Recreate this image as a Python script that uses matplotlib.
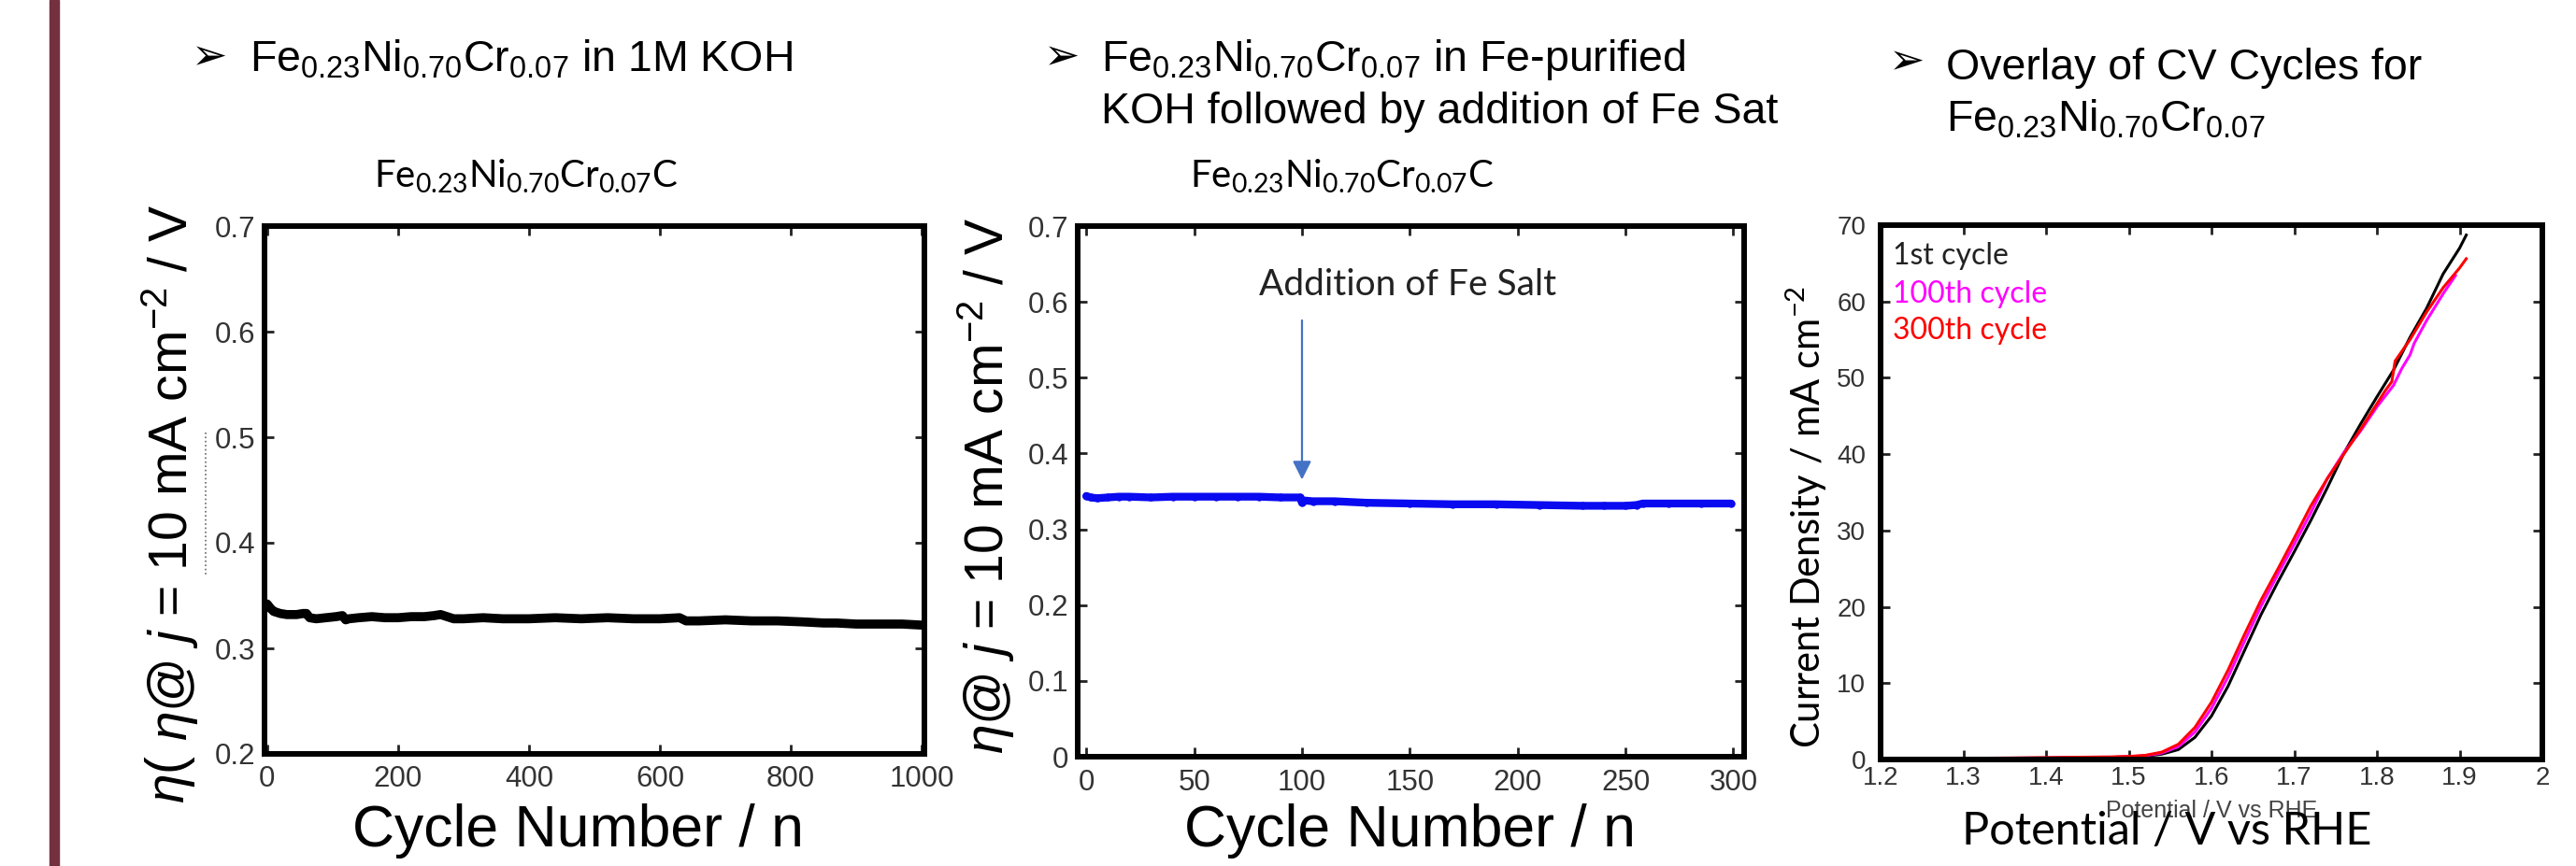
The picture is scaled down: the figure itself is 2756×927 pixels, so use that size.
import numpy as np
import matplotlib.pyplot as plt
from matplotlib import font_manager
from matplotlib.patches import Rectangle
from matplotlib.lines import Line2D

# panel 1: overpotential vs cycle number in 1M KOH
cyc1 = [0, 5, 10, 20, 30, 45, 55, 60, 65, 75, 90, 105, 115, 120, 125, 140, 160, 180, 200, 220,
        240, 255, 265, 275, 285, 300, 330, 360, 400, 440, 480, 520, 560, 600, 630, 640, 660, 700,
        740, 780, 820, 850, 870, 900, 940, 970, 1000]
eta1 = [0.342, 0.338, 0.335, 0.333, 0.332, 0.332, 0.333, 0.333, 0.329, 0.328, 0.329, 0.330, 0.331,
        0.327, 0.328, 0.329, 0.330, 0.329, 0.329, 0.330, 0.330, 0.331, 0.332, 0.330, 0.328, 0.328,
        0.329, 0.328, 0.328, 0.329, 0.328, 0.329, 0.328, 0.328, 0.329, 0.326, 0.326, 0.327, 0.326,
        0.326, 0.325, 0.324, 0.324, 0.323, 0.323, 0.323, 0.322]

# panel 2: Fe-purified KOH, Fe salt added at cycle 100
cyc2 = [0, 2, 5, 10, 15, 20, 30, 40, 50, 60, 70, 80, 90, 99, 100, 101, 105, 115, 130, 150, 170,
        190, 210, 230, 240, 250, 255, 258, 270, 285, 299]
eta2 = [0.344, 0.342, 0.341, 0.342, 0.343, 0.343, 0.342, 0.343, 0.343, 0.343, 0.343, 0.343, 0.342,
        0.342, 0.335, 0.338, 0.337, 0.337, 0.335, 0.334, 0.333, 0.333, 0.332, 0.331, 0.331, 0.331,
        0.332, 0.334, 0.334, 0.334, 0.334]

# panel 3: CV cycles
v_1st = [1.20, 1.30, 1.40, 1.48, 1.50, 1.52, 1.54, 1.56, 1.58, 1.60, 1.62, 1.64, 1.66, 1.68, 1.70,
         1.72, 1.74, 1.76, 1.78, 1.80, 1.82, 1.84, 1.86, 1.88, 1.90, 1.908]
j_1st = [0.1, 0.15, 0.2, 0.3, 0.35, 0.45, 0.7, 1.3, 2.9, 5.7, 9.6, 14.3, 19.0, 23.2, 27.2,
         31.3, 35.6, 40.1, 43.9, 47.5, 51.0, 55.3, 59.1, 63.6, 67.0, 68.7]
v_100 = [1.20, 1.30, 1.40, 1.48, 1.50, 1.52, 1.54, 1.56, 1.58, 1.60, 1.62, 1.64, 1.66, 1.68, 1.70,
         1.72, 1.74, 1.76, 1.78, 1.80, 1.82, 1.83, 1.84, 1.845, 1.86, 1.88, 1.895]
j_100 = [0.1, 0.15, 0.2, 0.3, 0.38, 0.5, 0.85, 1.7, 3.6, 6.7, 10.8, 15.5, 20.1, 24.2, 28.2,
         32.3, 36.8, 40.2, 43.0, 46.2, 49.0, 51.2, 53.0, 54.5, 57.5, 61.0, 63.4]
v_300 = [1.20, 1.30, 1.40, 1.48, 1.50, 1.52, 1.54, 1.56, 1.58, 1.60, 1.62, 1.64, 1.66, 1.68, 1.70,
         1.72, 1.74, 1.76, 1.78, 1.80, 1.81, 1.818, 1.822, 1.84, 1.86, 1.88, 1.90, 1.908]
j_300 = [0.1, 0.15, 0.25, 0.35, 0.4, 0.55, 0.97, 2.0, 4.2, 7.5, 11.7, 16.4, 20.9, 24.9, 29.0,
         33.2, 36.8, 40.0, 43.2, 46.6, 48.3, 49.5, 52.2, 55.0, 58.6, 61.8, 64.4, 65.6]

plt.rcParams['mathtext.fontset'] = 'custom'
plt.rcParams['mathtext.rm'] = 'Liberation Sans'
plt.rcParams['mathtext.it'] = 'Liberation Sans:italic'
plt.rcParams['mathtext.sf'] = 'Lato'
plt.rcParams['font.family'] = ['Liberation Sans', 'DejaVu Sans']

names = {f.name for f in font_manager.fontManager.ttflist}
narrow = 'Liberation Sans Narrow' if 'Liberation Sans Narrow' in names else 'Liberation Sans'

W, H = 2756, 927


def fx(x):
    return x / W


def fy(y):
    return 1 - y / H


def style(ax, size=22.5, xpad=9, ypad=7):
    for s in ax.spines.values():
        s.set_linewidth(4.3)
    ax.tick_params(direction='in', length=7, width=2, top=True, right=True,
                   labelsize=size, labelcolor='#333333', color='#222222')
    ax.tick_params(axis='x', pad=xpad)
    ax.tick_params(axis='y', pad=ypad)


fig = plt.figure(figsize=(W / 100, H / 100), dpi=100)
fig.patches.append(Rectangle((fx(53), 0), 10 / W, 1, transform=fig.transFigure, color='#75303f'))

sub = r'Fe$_{0.23}$Ni$_{0.70}$Cr$_{0.07}$'
sub_sf = r'Fe$_{\mathsf{0.23}}$Ni$_{\mathsf{0.70}}$Cr$_{\mathsf{0.07}}$C'
eta_label = r'$\eta$@ $j$ = 10 mA cm$^{-2}$ / V'

# headings
for x, y in [(224, 62), (1136, 62), (2040, 67)]:
    fig.text(fx(x), fy(y), '➢', fontsize=33, family='DejaVu Sans', weight='bold',
             ha='center', va='center')
fig.text(fx(267), fy(76), sub + ' in 1M KOH', fontsize=33.5, va='baseline')
fig.text(fx(1178), fy(76), sub + ' in Fe-purified', fontsize=33.5, va='baseline')
fig.text(fx(1178), fy(132), 'KOH followed by addition of Fe Sat', fontsize=33.5, va='baseline')
fig.text(fx(2082), fy(85), 'Overlay of CV Cycles for', fontsize=33.5, va='baseline')
fig.text(fx(2082), fy(140), sub, fontsize=33.5, va='baseline')

fig.text(fx(563), fy(200), sub_sf, fontsize=29, family='Lato', ha='center', va='baseline')
fig.text(fx(1436), fy(200), sub_sf, fontsize=29, family='Lato', ha='center', va='baseline')

# panel 1
ax1 = fig.add_axes([fx(283), fy(807), (989 - 283) / W, (807 - 242) / H])
ax1.plot(cyc1, eta1, color='black', lw=7, solid_capstyle='round', solid_joinstyle='round')
ax1.set_xlim(-4, 1004)
ax1.set_ylim(0.2, 0.7)
ax1.set_xticks(np.arange(0, 1001, 200))
ax1.set_yticks(np.arange(0.2, 0.71, 0.1))
ax1.set_yticklabels(['0.2', '0.3', '0.4', '0.5', '0.6', '0.7'])
style(ax1)
fig.text(fx(182), fy(506), eta_label, fontsize=41, rotation=90, ha='center', va='center')
fig.text(fx(182), fy(834), r'$\eta$(', fontsize=41, rotation=90, ha='center', va='center')
fig.add_artist(Line2D([fx(220), fx(220)], [fy(463), fy(616)], color='#666666', ls=':', lw=1.2))
fig.text(fx(618), fy(906), 'Cycle Number / n', fontsize=45, ha='center', va='baseline')

# panel 2
ax2 = fig.add_axes([fx(1153), fy(810), (1866 - 1153) / W, (810 - 242) / H])
ax2.plot(cyc2, eta2, color='#0a0af0', lw=6, marker='o', ms=5, solid_capstyle='round',
         solid_joinstyle='round')
ax2.set_xlim(-4, 305)
ax2.set_ylim(0, 0.7)
ax2.set_xticks(np.arange(0, 301, 50))
ax2.set_yticks(np.arange(0, 0.71, 0.1))
ax2.set_yticklabels(['0', '0.1', '0.2', '0.3', '0.4', '0.5', '0.6', '0.7'])
style(ax2)
ax2.annotate('', xy=(100, 0.362), xytext=(100, 0.579),
             arrowprops=dict(arrowstyle='-|>', color='#4472c4', lw=1.6, mutation_scale=30))
ax2.text(149, 0.622, 'Addition of Fe Salt', fontsize=28, family='Lato', color='#222222',
         ha='center', va='center')
fig.text(fx(1055), fy(520), eta_label, fontsize=41, rotation=90, ha='center', va='center')
fig.text(fx(1508), fy(906), 'Cycle Number / n', fontsize=45, ha='center', va='baseline')

# panel 3
ax3 = fig.add_axes([fx(2012), fy(813), (2720 - 2012) / W, (813 - 241) / H])
ax3.plot(v_1st, j_1st, color='black', lw=2.2)
ax3.plot(v_100, j_100, color='#ff00ff', lw=2.2)
ax3.plot(v_300, j_300, color='#ff0000', lw=2.2)
ax3.set_xlim(1.2, 2.0)
ax3.set_ylim(0, 70)
ax3.set_xticks(np.arange(1.2, 2.01, 0.1))
ax3.set_xticklabels(['1.2', '1.3', '1.4', '1.5', '1.6', '1.7', '1.8', '1.9', '2'])
ax3.set_yticks(np.arange(0, 71, 10))
style(ax3, size=20, xpad=5, ypad=11.5)
for lab in ax3.get_xticklabels() + ax3.get_yticklabels():
    lab.set_family(narrow)
ax3.text(1.2145, 64.9, '1st cycle', fontsize=23, family='Lato', color='#222222', va='baseline')
ax3.text(1.2145, 59.9, '100th cycle', fontsize=23, family='Lato', color='#ff00ff', va='baseline')
ax3.text(1.2145, 55.1, '300th cycle', fontsize=23, family='Lato', color='#ff0000', va='baseline')
fig.text(fx(1933), fy(553), r'Current Density / mA cm$^{\mathsf{-2}}$', fontsize=30, family='Lato',
         rotation=90, ha='center', va='center')
fig.text(fx(2366), fy(875), 'Potential / V vs RHE', fontsize=18, family=narrow, color='#444444',
         ha='center', va='baseline')
fig.text(fx(2318), fy(904), 'Potential / V vs RHE', fontsize=35, family='Lato', ha='center',
         va='baseline')

fig.savefig('out.png', dpi=100)
